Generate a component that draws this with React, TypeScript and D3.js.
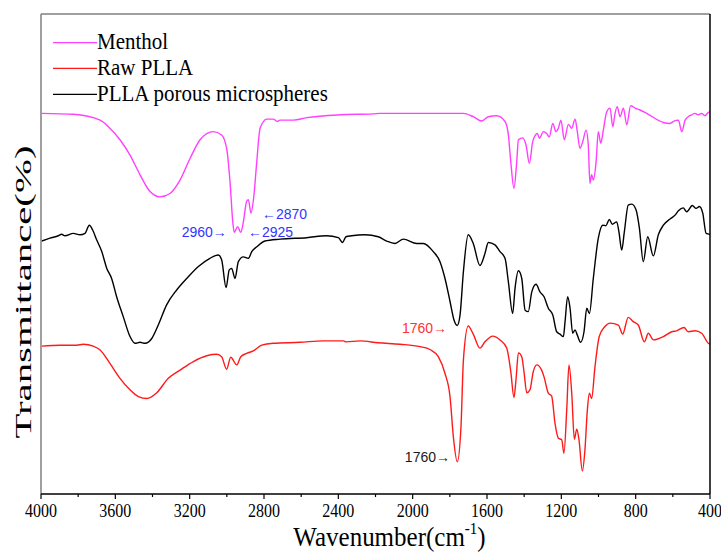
import React from 'react';
import * as d3 from 'd3';

// ---- data (wavenumber cm^-1, transmittance in arbitrary % units) ----
const mentholWn = [3996,3826,3682,3629,3575,3521,3467,3413,3360,3306,3252,3198,3144,3073,3028,3001,2983,2968,2960,2942,2925,2911,2893,2884,2870,2854,2839,2821,2785,2750,2728,2714,2642,2570,2391,2212,2176,1727,1674,1628,1593,1548,1503,1485,1472,1455,1440,1431,1408,1390,1372,1354,1329,1318,1297,1279,1265,1246,1229,1216,1202,1184,1162,1144,1126,1114,1100,1085,1067,1055,1046,1037,1028,1013,1001,988,974,956,938,923,911,899,884,866,848,827,803,777,741,651,615,594,570,552,534,517,498,481,463,445,427,409,400];
const mentholT = [79.3,79.1,77.9,76.2,73.8,70.6,66.5,63.0,61.9,62.6,65.4,69.9,73.8,75.5,74.8,72.0,65.1,56.7,54.5,55.7,54.5,56.7,61.0,61.3,58.5,62.3,69.2,76.2,78.1,78.1,77.6,77.9,77.9,78.4,79.0,79.2,79.3,79.3,78.6,77.7,78.6,78.8,77.6,74.8,69.2,63.7,69.2,73.8,74.2,72.7,68.9,73.4,75.1,74.1,75.5,75.1,74.4,77.2,75.5,76.2,77.9,73.8,77.0,76.2,78.1,75.5,72.0,73.4,75.8,72.7,64.7,66.5,65.4,69.2,75.5,73.1,75.8,79.6,80.4,76.5,79.3,80.7,78.6,80.4,76.9,80.9,80.4,80.0,79.3,77.4,77.2,77.7,77.9,75.5,77.9,78.6,79.0,79.3,79.0,79.3,78.8,79.5,79.6];

const microWn = [3996,3952,3907,3889,3871,3826,3790,3763,3740,3722,3700,3673,3646,3620,3593,3557,3521,3494,3467,3440,3404,3369,3324,3270,3216,3153,3091,3046,3028,3004,2987,2974,2956,2938,2911,2884,2866,2839,2795,2714,2570,2463,2400,2377,2359,2328,2257,2185,2140,2095,2050,1978,1943,1889,1853,1826,1799,1778,1760,1745,1727,1701,1674,1638,1611,1593,1557,1530,1503,1485,1462,1449,1431,1413,1395,1378,1359,1336,1315,1293,1270,1246,1225,1207,1189,1180,1166,1153,1139,1126,1114,1096,1078,1063,1049,1028,1001,977,960,942,926,902,890,875,861,840,821,798,780,759,735,705,678,651,615,588,570,544,525,495,475,457,439,421,400];
const microT = [52.7,53.3,53.8,54.1,53.8,54.3,54.0,54.3,56.0,55.0,52.9,50.5,47.0,44.9,41.1,36.9,32.8,31.4,31.6,31.4,32.4,35.2,39.4,42.5,44.9,47.4,49.1,49.8,48.8,43.0,46.7,47.0,44.9,48.4,49.4,49.1,50.5,51.5,52.7,53.1,53.4,53.8,53.4,52.4,53.6,53.8,54.0,53.6,52.7,52.2,53.1,52.2,52.2,50.5,48.4,44.9,40.1,36.3,35.1,37.3,46.3,54.0,52.2,47.6,50.1,52.4,51.9,50.5,49.1,44.2,37.6,42.9,46.5,44.9,38.3,38.0,42.1,43.7,42.1,41.1,38.7,37.3,33.8,33.3,32.8,35.9,41.1,38.7,33.5,34.2,33.1,31.6,33.8,38.7,37.6,44.9,53.3,56.0,55.9,57.2,56.2,56.7,54.6,50.8,54.6,60.2,60.4,59.2,55.4,48.4,53.6,49.6,54.0,56.0,57.3,58.1,59.0,59.6,58.8,60.1,59.5,59.9,58.5,54.3,54.1];

const rawWn = [3996,3898,3808,3772,3719,3682,3629,3575,3521,3476,3431,3377,3315,3252,3180,3108,3054,3028,3001,2979,2947,2925,2893,2858,2812,2750,2606,2481,2373,2359,2283,2185,2068,1960,1907,1862,1826,1799,1781,1760,1740,1727,1701,1674,1638,1611,1569,1530,1494,1472,1455,1444,1431,1413,1401,1386,1369,1351,1332,1306,1293,1270,1252,1234,1216,1198,1186,1171,1159,1144,1130,1117,1105,1087,1073,1060,1049,1037,1019,996,965,938,893,870,840,813,786,753,732,705,651,606,579,540,517,481,445,409,400];
const rawT = [30.8,31.0,31.0,31.2,30.8,30.0,27.2,24.1,21.7,20.3,19.9,21.1,24.1,25.8,27.6,28.8,29.1,28.6,26.0,28.5,26.9,28.6,29.3,29.8,31.0,31.4,31.6,31.9,31.9,31.7,31.9,31.5,31.2,30.7,30.1,28.6,25.1,20.3,11.9,6.7,14.0,27.9,35.0,33.3,30.4,31.7,32.9,32.1,30.4,25.5,20.1,23.8,29.4,28.6,25.5,21.1,21.7,25.5,26.9,25.8,24.4,21.0,20.4,14.7,11.6,11.3,8.5,17.5,26.9,21.0,11.4,13.5,11.3,4.8,9.2,17.5,21.0,19.9,26.5,32.8,34.9,35.6,35.2,33.3,36.8,35.9,35.2,31.7,33.5,32.1,32.8,33.8,34.0,34.7,33.8,34.0,33.5,31.4,31.2];

const majorTicks = [4000, 3600, 3200, 2800, 2400, 2000, 1600, 1200, 800, 400];
const minorTicks = [3800, 3400, 3000, 2600, 2200, 1800, 1400, 1000, 600];

const seriesNames = ['Menthol', 'Raw PLLA', 'PLLA porous microspheres'];
const seriesColors = ['#ff40ff', '#ff1a1a', '#000000'];

const annoTexts = ['2960\u2192', '\u21902925', '\u21902870', '1760\u2192', '1760\u2192'];
const annoWn = [3000, 2886, 2811, 1815, 1799];
const annoT = [53.5, 53.5, 57.3, 33.5, 6.7];
const annoAnchor = ['end', 'start', 'start', 'end', 'end'];
const annoColors = ['#3333ff', '#3333ff', '#3333ff', '#ff3333', '#1a1a1a'];

const W = 721, H = 552;
const M = { left: 41, right: 710, top: 14, bottom: 494 };
const SERIF = '"Liberation Serif", "Times New Roman", serif';
const SANS = '"Liberation Sans", Arial, sans-serif';

export default function App() {
  const x = d3.scaleLinear().domain([4000, 400]).range([M.left, M.right]);
  const y = d3.scaleLinear().domain([0, 100]).range([M.bottom, M.top]);
  const line = d3.line<[number, number]>()
    .x(d => x(d[0]))
    .y(d => y(d[1]))
    .curve(d3.curveMonotoneX);

  const series = [
    { wn: mentholWn, t: mentholT, color: seriesColors[0] },
    { wn: rawWn, t: rawT, color: seriesColors[1] },
    { wn: microWn, t: microT, color: seriesColors[2] },
  ];
  const legendY = [42.7, 68.3, 94.3];

  return (
    <svg width={W} height={H} style={{ position: 'absolute', left: 0, top: 0, background: '#fff' }}>
      <rect x={0} y={0} width={W} height={H} fill="#fff" />
      {series.map((s, i) => (
        <path key={i}
          d={line(s.wn.map((w, j) => [w, s.t[j]] as [number, number])) || ''}
          fill="none" stroke={s.color} strokeWidth={1.4} strokeLinejoin="round" />
      ))}
      {/* frame */}
      <line x1={M.left} x2={M.right} y1={M.top} y2={M.top} stroke="#7f7f7f" strokeWidth={1.5} />
      <line x1={M.left} x2={M.left} y1={M.top} y2={M.bottom} stroke="#7f7f7f" strokeWidth={1.5} />
      <line x1={M.right} x2={M.right} y1={M.top} y2={M.bottom} stroke="#000" strokeWidth={1.5} />
      <line x1={M.left} x2={M.right} y1={M.bottom} y2={M.bottom} stroke="#000" strokeWidth={1.5} />
      {majorTicks.map(t => (
        <g key={'M' + t}>
          <line x1={x(t)} x2={x(t)} y1={M.bottom} y2={M.bottom + 5} stroke="#000" strokeWidth={1.2} />
          <text transform={`translate(${x(t)},${M.bottom + 23}) scale(1,1.2)`} textAnchor="middle"
            fontFamily={SERIF} fontSize={16} fill="#000">{t}</text>
        </g>
      ))}
      {minorTicks.map(t => (
        <line key={'m' + t} x1={x(t)} x2={x(t)} y1={M.bottom} y2={M.bottom + 3} stroke="#000" strokeWidth={1.2} />
      ))}
      {/* axis titles */}
      <text transform={`translate(${(M.left + M.right) / 2 + 14},546) scale(1,1.12)`} textAnchor="middle"
        fontFamily={SERIF} fontSize={25} fill="#000">
        Wavenumber(cm<tspan fontSize={15} dy={-11}>-1</tspan><tspan dy={11}>)</tspan>
      </text>
      <text transform={`translate(31,292) rotate(-90) scale(1.7,1)`} textAnchor="middle"
        fontFamily={SERIF} fontSize={24} fill="#000">Transmittance(%)</text>
      {/* legend */}
      {seriesNames.map((n, i) => (
        <g key={n}>
          <line x1={53} x2={97} y1={legendY[i]} y2={legendY[i]} stroke={seriesColors[i]} strokeWidth={1.3} />
          <text transform={`translate(97,${legendY[i] + 6.5}) scale(1,1.1)`} fontFamily={SERIF} fontSize={21} fill="#000">{n}</text>
        </g>
      ))}
      {/* annotations */}
      {annoTexts.map((a, i) => (
        <text key={i} x={x(annoWn[i])} y={y(annoT[i])} textAnchor={annoAnchor[i] as any}
          fontFamily={SANS} fontSize={14} fill={annoColors[i]}>{a}</text>
      ))}
    </svg>
  );
}
